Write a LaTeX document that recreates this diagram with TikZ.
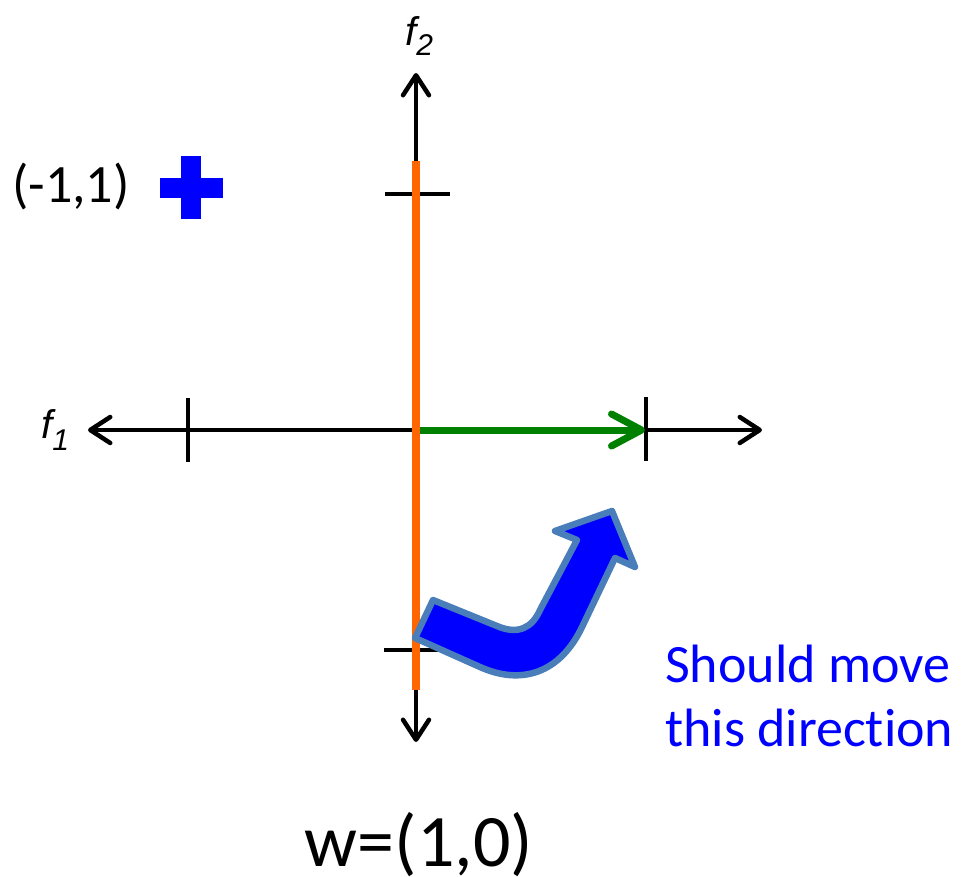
\documentclass[tikz,border=0pt]{standalone}
\usepackage{fontspec}
\setmainfont{Carlito}[Ligatures=NoCommon]
\newfontfamily\arialfont{Liberation Sans}
\usetikzlibrary{arrows.meta}
\definecolor{orangeline}{RGB}{255,102,0}
\definecolor{greenline}{RGB}{0,128,0}
\definecolor{arrowborder}{RGB}{74,126,187}
\definecolor{pureblue}{RGB}{0,0,255}
\tikzset{
  axis/.style={line width=4.5pt, draw=black, {Straight Barb[length=20pt,width=26pt,round]}-{Straight Barb[length=20pt,width=26pt,round]}},
  tick/.style={line width=4.5pt, draw=black},
  lbl/.style={inner sep=0pt, font=\fontsize{54}{64}\selectfont},
  axlbl/.style={inner sep=0pt, font=\arialfont\itshape\fontsize{40}{40}\selectfont},
}
\begin{document}
\begin{tikzpicture}[x=1pt,y=-1pt]
\useasboundingbox (0,0) rectangle (961,877);
% coordinates
\coordinate (L) at (88,430);
\coordinate (R) at (762,430);
\coordinate (T) at (416,73);
\coordinate (B) at (416,742);
\coordinate (O) at (416,430);
\coordinate (W) at (645,430);
\coordinate (ot) at (416,161);
\coordinate (ob) at (416,690);
% axes
\draw[axis] (L) -- (R);
\draw[axis] (B) -- (T);
% ticks
\draw[tick] (188,398) -- (188,462);
\draw[tick] (646,397) -- (646,461);
\draw[tick] (385,194) -- (450,194);
\draw[tick] (384,650) -- (450,650);
% green weight vector
\draw[line width=7pt, greenline, -{Straight Barb[length=30pt,width=32pt,round]}] (O) -- (W);
% orange decision boundary
\draw[line width=8pt, orangeline] (ot) -- (ob);
% blue plus
\fill[pureblue] (159.5,178) rectangle (222.5,198);
\fill[pureblue] (181,156.5) rectangle (201,219.5);
% labels
\node[lbl, anchor=base west] (pt) at (12,203) {(-1,1)};
\node[axlbl, anchor=base west] (f2) at (405,46) {f\raisebox{-10pt}{\fontsize{30}{30}\selectfont 2}};
\node[axlbl, anchor=base west] (f1) at (41,438) {f\raisebox{-12pt}{\fontsize{30}{30}\selectfont 1}};
\node[lbl, anchor=base west, text=pureblue] (s1) at (665,682) {Should move};
\node[lbl, anchor=base west, text=pureblue] (s2) at (665,746) {this direction};
\node[inner sep=0pt, anchor=base, font=\fontsize{74}{86}\selectfont] (w) at (419,866) {w=(1,0)};
% bent arrow
\draw[fill=pureblue, draw=arrowborder, line width=6.5pt, line join=round]
  (415,638) -- (433,600) -- (497,626)
  .. controls (518,635) and (532,628) .. (540,610)
  -- (577,540) -- (555,531) -- (612,511) -- (635,567) -- (615,558)
  -- (583,625)
  .. controls (560,675) and (520,685) .. (480,667) -- cycle;
\end{tikzpicture}
\end{document}
